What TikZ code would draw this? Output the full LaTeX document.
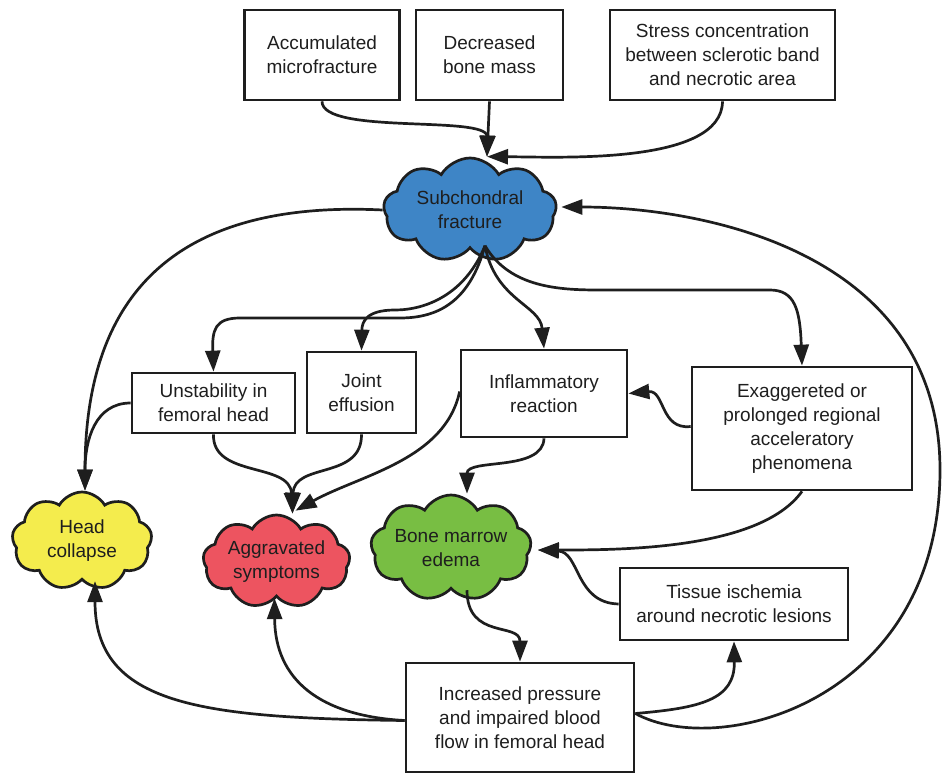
\documentclass[tikz,border=0pt]{standalone}
\usepackage{fontspec}
\setmainfont{Liberation Sans}
\usetikzlibrary{arrows.meta,shapes.symbols,calc}
\definecolor{cblue}{RGB}{62,133,198}
\definecolor{cyellow}{RGB}{244,236,77}
\definecolor{cred}{RGB}{237,84,96}
\definecolor{cgreen}{RGB}{120,190,67}
\definecolor{ink}{RGB}{30,30,30}
\begin{document}
\begin{tikzpicture}[x=1pt,y=-1pt,
  font=\fontsize{19}{24}\selectfont,
  box/.style={draw=ink, line width=2.7pt, align=center, inner sep=0pt, text=ink},
  blob/.style={cloud, cloud puffs=9, cloud puff arc=120, cloud ignores aspect, draw=ink, line width=2.7pt, align=center, inner sep=0pt, text=ink},
  conn/.style={line width=2.7pt, draw=ink, -{Triangle[length=21pt,width=15pt]}},
]
\useasboundingbox (0,0) rectangle (942,773);
% boxes
\node[box, minimum width=155pt, minimum height=90pt] (acc) at (322,55) {Accumulated\\microfracture};
\node[box, minimum width=147pt, minimum height=90pt] (dec) at (489.5,55) {Decreased\\bone mass};
\node[box, minimum width=225pt, minimum height=90pt] (str) at (722.5,55) {Stress concentration\\between sclerotic band\\and necrotic area};
\node[box, minimum width=163pt, minimum height=60pt] (uns) at (213.5,403) {Unstability in\\femoral head};
\node[box, minimum width=109pt, minimum height=81pt] (joi) at (361.5,392.5) {Joint\\effusion};
\node[box, minimum width=166pt, minimum height=87pt] (inf) at (544,393.5) {Inflammatory\\reaction};
\node[box, minimum width=220pt, minimum height=123pt] (exa) at (802,428.5) {Exaggereted or\\prolonged regional\\acceleratory\\phenomena};
\node[box, minimum width=228pt, minimum height=72pt] (tis) at (734,604) {Tissue ischemia\\around necrotic lesions};
\node[box, minimum width=228pt, minimum height=109pt] (inc) at (520,717.5) {Increased pressure\\and impaired blood\\flow in femoral head};
% clouds
\node[blob, fill=cblue, minimum width=173pt, minimum height=104pt] (sub) at (470,210) {Subchondral\\fracture};
\node[blob, fill=cyellow, minimum width=140pt, minimum height=98pt] (hea) at (82,541) {Head\\collapse};
\node[blob, fill=cred, minimum width=147pt, minimum height=93pt] (agg) at (276.5,561.5) {Aggravated\\symptoms};
\node[blob, fill=cgreen, minimum width=142pt, minimum height=106pt] (bon) at (451,548) {Bone marrow\\edema};
% helper points on the clouds
\coordinate (subtop) at ($(sub.north)+(17,0)$);
\coordinate (subbot) at ($(sub.south)+(15,-4)$);
\coordinate (subright) at ($(sub.east)+(4,-3)$);
\coordinate (headtop) at ($(hea.north)+(3,0)$);
\coordinate (headbot) at ($(hea.south)+(13,0)$);
\coordinate (aggtop) at ($(agg.north)+(16,0)$);
\coordinate (aggtop2) at ($(agg.north)+(19,-3)$);
\coordinate (aggbot) at ($(agg.south)+(-2,0)$);
\coordinate (bontop) at ($(bon.north)+(16,0)$);
\coordinate (bonright) at ($(bon.east)+(6,2)$);
\coordinate (bonbot) at ($(bon.south)+(16,0)$);
% connectors into Subchondral fracture
\draw[conn] (acc.south) .. controls (322,135) and (487,115) .. (subtop);
\draw[conn] (dec.south) -- (subtop);
\draw[conn] (str.south) .. controls (722,165) and (560,157) .. (subtop);
% from Subchondral fracture
\draw[conn] (sub.west) .. controls (180,200) and (85,290) .. (headtop);
\draw[conn] (subbot) .. controls (470,300) and (440,318) .. (400,318) -- (240,318) .. controls (215,318) and (212,330) .. (uns.north);
\draw[conn] (subbot) .. controls (465,295) and (425,310) .. (395,310) .. controls (366,310) and (362,322) .. (joi.north);
\draw[conn] (subbot) .. controls (495,300) and (540,305) .. (inf.north);
\draw[conn] (subbot) .. controls (510,288) and (560,290) .. (600,290) -- (770,290) .. controls (795,290) and (800,310) .. (exa.north);
% middle layer
\draw[conn] (uns.west) .. controls (95,403) and (85,440) .. (headtop);
\draw[conn] (uns.south) .. controls (212,478) and (290,462) .. (aggtop);
\draw[conn] (joi.south) .. controls (362,480) and (294,462) .. (aggtop);
\draw[conn] ($(inf.west)+(0,-2)$) .. controls (445,460) and (360,475) .. (aggtop2);
\draw[conn] (inf.south) .. controls (543,472) and (467,458) .. (bontop);
\draw[conn] ($(exa.west)+(0,-2)$) .. controls (660,430) and (665,390) .. (inf.east);
\draw[conn] (exa.south) .. controls (760,550) and (620,550) .. (bonright);
\draw[conn] (tis.west) .. controls (575,603) and (580,552) .. (bonright);
\draw[conn] (bonbot) .. controls (467,640) and (520,622) .. (inc.north);
% from Increased pressure
\draw[conn] ($(inc.east)+(0,-4)$) .. controls (700,708) and (735,700) .. (tis.south);
\draw[conn] ($(inc.east)+(0,-4)$) .. controls (720,760) and (940,700) .. (940,470) .. controls (940,250) and (700,207) .. (subright);
\draw[conn] ($(inc.west)+(0,3)$) .. controls (200,718) and (95,705) .. (headbot);
\draw[conn] ($(inc.west)+(0,3)$) .. controls (320,716) and (275,680) .. (aggbot);
\end{tikzpicture}
\end{document}
